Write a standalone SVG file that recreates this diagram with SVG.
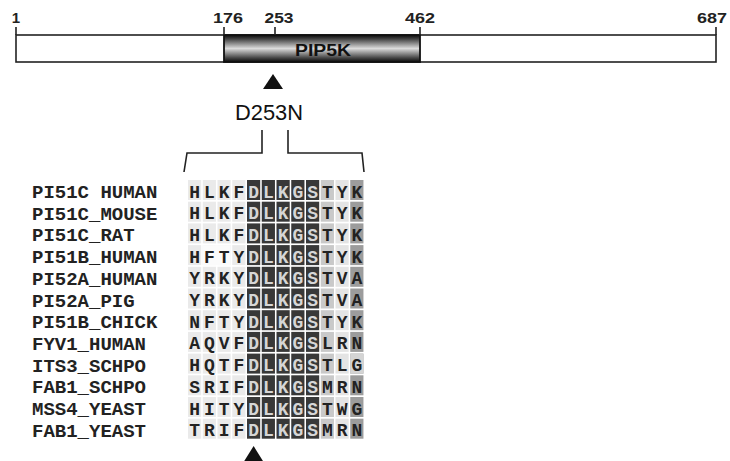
<svg xmlns="http://www.w3.org/2000/svg" xmlns:xlink="http://www.w3.org/1999/xlink" width="730" height="461" viewBox="0 0 730 461">
<style>
.num{font-family:"Liberation Sans",Arial,sans-serif;font-weight:bold;font-size:15px;fill:#222;text-anchor:middle}
.dom{font-family:"Liberation Sans",Arial,sans-serif;font-weight:bold;font-size:16px;fill:#111;text-anchor:middle}
.mut{font-family:"Liberation Sans",Arial,sans-serif;font-size:22px;fill:#111;text-anchor:middle}
.name{font-family:"Liberation Mono","Courier New",monospace;font-weight:bold;font-size:19px;fill:#222}
.seq{font-family:"Liberation Mono","Courier New",monospace;font-weight:bold;font-size:18px;text-anchor:middle}
.dk{fill:#222}.lt{fill:#d6d6d6}
.ln{fill:none;stroke:#222;stroke-width:1.6}
.c0{fill:#eaeaea}.c1{fill:#383838}.c2{fill:#c9c9c9}.c3{fill:#e4e4e4}.c4{fill:#9c9c9c}
</style>
<defs>
<linearGradient id="g" x1="0" y1="0" x2="0" y2="1">
<stop offset="0" stop-color="#0a0a0a"/>
<stop offset="0.15" stop-color="#444"/>
<stop offset="0.5" stop-color="#dcdcdc"/>
<stop offset="0.85" stop-color="#444"/>
<stop offset="1" stop-color="#0a0a0a"/>
</linearGradient>
<g id="rowbg">
<rect class="c0" x="188" y="0" width="13.2" height="20"/>
<rect class="c0" x="202.75" y="0" width="13.2" height="20"/>
<rect class="c0" x="217.5" y="0" width="13.2" height="20"/>
<rect class="c0" x="232.25" y="0" width="13.2" height="20"/>
<rect class="c1" x="247" y="0" width="13.2" height="20"/>
<rect class="c1" x="261.75" y="0" width="13.2" height="20"/>
<rect class="c1" x="276.5" y="0" width="13.2" height="20"/>
<rect class="c1" x="291.25" y="0" width="13.2" height="20"/>
<rect class="c1" x="306" y="0" width="13.2" height="20"/>
<rect class="c2" x="320.75" y="0" width="13.2" height="20"/>
<rect class="c3" x="335.5" y="0" width="13.2" height="20"/>
<rect class="c4" x="350.25" y="0" width="13.2" height="20"/>
</g>
</defs>
<rect width="730" height="461" fill="#fff"/>

<g id="protein">
<rect x="16" y="35" width="700" height="27" fill="#fff" stroke="#222" stroke-width="1.6"/>
<rect x="224" y="35" width="196" height="27" fill="url(#g)" stroke="#111" stroke-width="1.8"/>
<path class="ln" d="M16 27V35M224 27V35M275 27V35M420 27V35M716 27V35"/>
<text class="num" x="16" y="23">1</text>
<text class="num" x="228" y="23" textLength="30" lengthAdjust="spacingAndGlyphs">176</text>
<text class="num" x="279" y="23" textLength="29" lengthAdjust="spacingAndGlyphs">253</text>
<text class="num" x="420" y="23" textLength="30" lengthAdjust="spacingAndGlyphs">462</text>
<text class="num" x="712" y="23" textLength="30" lengthAdjust="spacingAndGlyphs">687</text>
<text class="dom" x="323" y="55.5" textLength="56" lengthAdjust="spacingAndGlyphs">PIP5K</text>
</g>

<g id="mutation">
<path d="M273 74L263 89H283Z" fill="#111"/>
<text class="mut" x="269" y="120" textLength="68" lengthAdjust="spacingAndGlyphs">D253N</text>
</g>

<g id="connectors">
<path class="ln" d="M262 130V153H187L184 172"/>
<path class="ln" d="M288 130V153H362L364 172"/>
<path d="M253.6 446L243.6 462H263.6Z" fill="#111"/>
</g>

<g id="alignment-bg">
<use xlink:href="#rowbg" y="180"/>
<use xlink:href="#rowbg" y="201.7"/>
<use xlink:href="#rowbg" y="223.4"/>
<use xlink:href="#rowbg" y="245.1"/>
<use xlink:href="#rowbg" y="266.8"/>
<use xlink:href="#rowbg" y="288.5"/>
<use xlink:href="#rowbg" y="310.2"/>
<use xlink:href="#rowbg" y="331.9"/>
<use xlink:href="#rowbg" y="353.6"/>
<use xlink:href="#rowbg" y="375.3"/>
<use xlink:href="#rowbg" y="397"/>
<use xlink:href="#rowbg" y="418.7"/>
<rect x="202.75" y="245.1" width="27.95" height="20" fill="#fbfbfb"/>
<rect x="350.25" y="353.6" width="13.2" height="20" fill="#d4d4d4"/>
</g>

<g id="names">
<text class="name" x="32" y="198">PI51C HUMAN</text>
<text class="name" x="32" y="219.7">PI51C_MOUSE</text>
<text class="name" x="32" y="241.4">PI51C_RAT</text>
<text class="name" x="32" y="263.1">PI51B_HUMAN</text>
<text class="name" x="32" y="284.8">PI52A_HUMAN</text>
<text class="name" x="32" y="306.5">PI52A_PIG</text>
<text class="name" x="32" y="328.2">PI51B_CHICK</text>
<text class="name" x="32" y="349.9">FYV1_HUMAN</text>
<text class="name" x="32" y="371.6">ITS3_SCHPO</text>
<text class="name" x="32" y="393.3">FAB1_SCHPO</text>
<text class="name" x="32" y="415">MSS4_YEAST</text>
<text class="name" x="32" y="436.7">FAB1_YEAST</text>
</g>

<g id="sequences">
<text class="seq" y="197.5"><tspan class="dk" x="194.6 209.35 224.1 238.85">HLKF</tspan><tspan class="lt" x="253.6 268.35 283.1 297.85 312.6">DLKGS</tspan><tspan class="dk" x="327.35 342.1 356.85">TYK</tspan></text>
<text class="seq" y="219.2"><tspan class="dk" x="194.6 209.35 224.1 238.85">HLKF</tspan><tspan class="lt" x="253.6 268.35 283.1 297.85 312.6">DLKGS</tspan><tspan class="dk" x="327.35 342.1 356.85">TYK</tspan></text>
<text class="seq" y="240.9"><tspan class="dk" x="194.6 209.35 224.1 238.85">HLKF</tspan><tspan class="lt" x="253.6 268.35 283.1 297.85 312.6">DLKGS</tspan><tspan class="dk" x="327.35 342.1 356.85">TYK</tspan></text>
<text class="seq" y="262.6"><tspan class="dk" x="194.6 209.35 224.1 238.85">HFTY</tspan><tspan class="lt" x="253.6 268.35 283.1 297.85 312.6">DLKGS</tspan><tspan class="dk" x="327.35 342.1 356.85">TYK</tspan></text>
<text class="seq" y="284.3"><tspan class="dk" x="194.6 209.35 224.1 238.85">YRKY</tspan><tspan class="lt" x="253.6 268.35 283.1 297.85 312.6">DLKGS</tspan><tspan class="dk" x="327.35 342.1 356.85">TVA</tspan></text>
<text class="seq" y="306"><tspan class="dk" x="194.6 209.35 224.1 238.85">YRKY</tspan><tspan class="lt" x="253.6 268.35 283.1 297.85 312.6">DLKGS</tspan><tspan class="dk" x="327.35 342.1 356.85">TVA</tspan></text>
<text class="seq" y="327.7"><tspan class="dk" x="194.6 209.35 224.1 238.85">NFTY</tspan><tspan class="lt" x="253.6 268.35 283.1 297.85 312.6">DLKGS</tspan><tspan class="dk" x="327.35 342.1 356.85">TYK</tspan></text>
<text class="seq" y="349.4"><tspan class="dk" x="194.6 209.35 224.1 238.85">AQVF</tspan><tspan class="lt" x="253.6 268.35 283.1 297.85 312.6">DLKGS</tspan><tspan class="dk" x="327.35 342.1 356.85">LRN</tspan></text>
<text class="seq" y="371.1"><tspan class="dk" x="194.6 209.35 224.1 238.85">HQTF</tspan><tspan class="lt" x="253.6 268.35 283.1 297.85 312.6">DLKGS</tspan><tspan class="dk" x="327.35 342.1 356.85">TLG</tspan></text>
<text class="seq" y="392.8"><tspan class="dk" x="194.6 209.35 224.1 238.85">SRIF</tspan><tspan class="lt" x="253.6 268.35 283.1 297.85 312.6">DLKGS</tspan><tspan class="dk" x="327.35 342.1 356.85">MRN</tspan></text>
<text class="seq" y="414.5"><tspan class="dk" x="194.6 209.35 224.1 238.85">HITY</tspan><tspan class="lt" x="253.6 268.35 283.1 297.85 312.6">DLKGS</tspan><tspan class="dk" x="327.35 342.1 356.85">TWG</tspan></text>
<text class="seq" y="436.2"><tspan class="dk" x="194.6 209.35 224.1 238.85">TRIF</tspan><tspan class="lt" x="253.6 268.35 283.1 297.85 312.6">DLKGS</tspan><tspan class="dk" x="327.35 342.1 356.85">MRN</tspan></text>
</g>
</svg>
